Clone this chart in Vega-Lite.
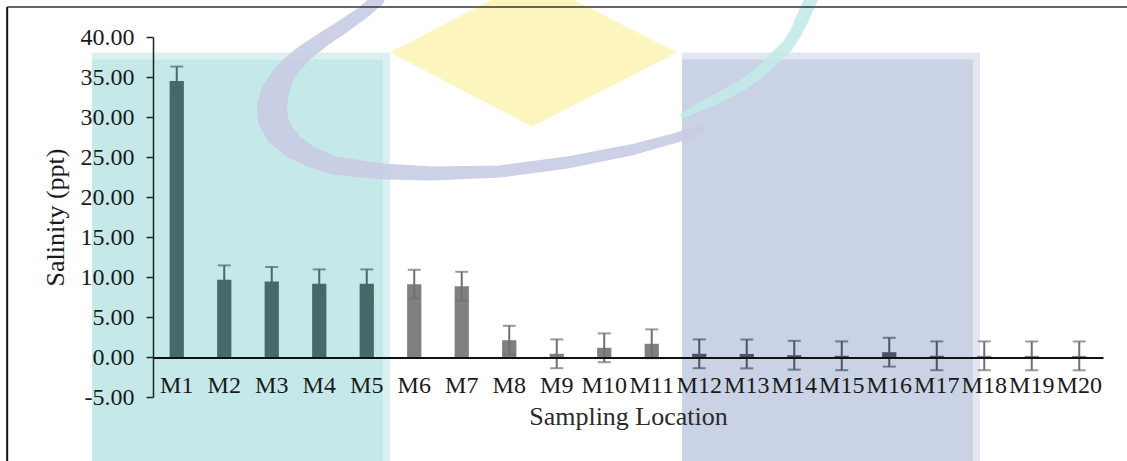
{
  "$schema": "https://vega.github.io/schema/vega-lite/v6.json",
  "width": 950,
  "height": 360,
  "autosize": "none",
  "padding": {"left": 153, "top": 37, "right": 24, "bottom": 64},
  "background": "white",
  "config": {"view": {"stroke": null}, "font": "Liberation Serif"},
  "datasets": {
    "salinity": [
      {"site": "M1", "mean": 34.5, "err": 1.8},
      {"site": "M2", "mean": 9.65, "err": 1.8},
      {"site": "M3", "mean": 9.45, "err": 1.8},
      {"site": "M4", "mean": 9.15, "err": 1.8},
      {"site": "M5", "mean": 9.15, "err": 1.8},
      {"site": "M6", "mean": 9.1, "err": 1.8},
      {"site": "M7", "mean": 8.85, "err": 1.8},
      {"site": "M8", "mean": 2.1, "err": 1.8},
      {"site": "M9", "mean": 0.4, "err": 1.8},
      {"site": "M10", "mean": 1.15, "err": 1.8},
      {"site": "M11", "mean": 1.65, "err": 1.8},
      {"site": "M12", "mean": 0.4, "err": 1.8},
      {"site": "M13", "mean": 0.38, "err": 1.8},
      {"site": "M14", "mean": 0.22, "err": 1.8},
      {"site": "M15", "mean": 0.15, "err": 1.8},
      {"site": "M16", "mean": 0.6, "err": 1.8},
      {"site": "M17", "mean": 0.15, "err": 1.8},
      {"site": "M18", "mean": 0.15, "err": 1.8},
      {"site": "M19", "mean": 0.14, "err": 1.8},
      {"site": "M20", "mean": 0.14, "err": 1.8}
    ],
    "panels": [
      {"panel": "teal rim", "x0": -0.78, "x1": 5.49, "top": 38.06, "bottom": -13},
      {"panel": "teal", "x0": -0.78, "x1": 5.34, "top": 37.19, "bottom": -13},
      {"panel": "blue rim", "x0": 11.64, "x1": 17.91, "top": 38.06, "bottom": -13},
      {"panel": "blue", "x0": 11.64, "x1": 17.76, "top": 37.19, "bottom": -13}
    ],
    "diamond": [
      {"u": 5.49, "top": 38.06, "bottom": 38.06},
      {"u": 8.48, "top": 47.3, "bottom": 28.8},
      {"u": 11.53, "top": 38.06, "bottom": 38.06}
    ],
    "ring": [
      {"arc": "lavender", "i": 0, "u": 5.279, "s": 45.44, "w": 13},
      {"arc": "lavender", "i": 1, "u": 5.237, "s": 44.69, "w": 13},
      {"arc": "lavender", "i": 2, "u": 4.921, "s": 43.06, "w": 13},
      {"arc": "lavender", "i": 3, "u": 4.5, "s": 41.31, "w": 14},
      {"arc": "lavender", "i": 4, "u": 4.079, "s": 39.69, "w": 15},
      {"arc": "lavender", "i": 5, "u": 3.7, "s": 38.06, "w": 17},
      {"arc": "lavender", "i": 6, "u": 3.384, "s": 36.31, "w": 20},
      {"arc": "lavender", "i": 7, "u": 3.195, "s": 34.69, "w": 24},
      {"arc": "lavender", "i": 8, "u": 3.068, "s": 33.06, "w": 28},
      {"arc": "lavender", "i": 9, "u": 3.005, "s": 31.31, "w": 30},
      {"arc": "lavender", "i": 10, "u": 3.026, "s": 29.69, "w": 30},
      {"arc": "lavender", "i": 11, "u": 3.153, "s": 28.06, "w": 28},
      {"arc": "lavender", "i": 12, "u": 3.447, "s": 26.31, "w": 24},
      {"arc": "lavender", "i": 13, "u": 3.805, "s": 25.06, "w": 21},
      {"arc": "lavender", "i": 14, "u": 4.289, "s": 23.94, "w": 18},
      {"arc": "lavender", "i": 15, "u": 5.342, "s": 23.19, "w": 16},
      {"arc": "lavender", "i": 16, "u": 6.395, "s": 22.94, "w": 14},
      {"arc": "lavender", "i": 17, "u": 7.805, "s": 23.19, "w": 12},
      {"arc": "lavender", "i": 18, "u": 9.216, "s": 24.31, "w": 12},
      {"arc": "lavender", "i": 19, "u": 10.605, "s": 25.94, "w": 11},
      {"arc": "lavender", "i": 20, "u": 11.532, "s": 27.44, "w": 10},
      {"arc": "lavender", "i": 21, "u": 12.016, "s": 28.44, "w": 9},
      {"arc": "aqua", "i": 0, "u": 14.458, "s": 45.69, "w": 13},
      {"arc": "aqua", "i": 1, "u": 14.353, "s": 44.69, "w": 13},
      {"arc": "aqua", "i": 2, "u": 14.163, "s": 42.19, "w": 13},
      {"arc": "aqua", "i": 3, "u": 14.037, "s": 40.56, "w": 12},
      {"arc": "aqua", "i": 4, "u": 13.847, "s": 38.81, "w": 12},
      {"arc": "aqua", "i": 5, "u": 13.553, "s": 37.19, "w": 12},
      {"arc": "aqua", "i": 6, "u": 13.279, "s": 35.56, "w": 11},
      {"arc": "aqua", "i": 7, "u": 12.858, "s": 33.81, "w": 11},
      {"arc": "aqua", "i": 8, "u": 12.332, "s": 32.19, "w": 10},
      {"arc": "aqua", "i": 9, "u": 11.911, "s": 30.94, "w": 8},
      {"arc": "aqua", "i": 10, "u": 11.658, "s": 30.19, "w": 5}
    ]
  },
  "layer": [
    {
      "layer": [
        {
          "data": {"name": "panels"},
          "mark": {"type": "rect"},
          "encoding": {
            "x": {"field": "x0", "type": "quantitative", "scale": {"domain": [0.5, 20.5], "nice": false, "zero": false}, "axis": null},
            "x2": {"field": "x1"},
            "y": {"field": "top", "type": "quantitative", "scale": {"domain": [-5, 40], "nice": false, "zero": false}, "axis": null},
            "y2": {"field": "bottom"},
            "color": {
              "field": "panel", "type": "nominal", "legend": null,
              "scale": {"domain": ["teal rim", "teal", "blue rim", "blue"], "range": ["#dbf1f0", "#c5e9e8", "#e3e6f1", "#cad2e5"]}
            }
          }
        },
        {
          "data": {"name": "diamond"},
          "mark": {"type": "area", "color": "#fdf5be"},
          "encoding": {
            "x": {"field": "u", "type": "quantitative", "scale": {"domain": [0.5, 20.5], "nice": false, "zero": false}, "axis": null},
            "y": {"field": "top", "type": "quantitative", "scale": {"domain": [-5, 40], "nice": false, "zero": false}, "axis": null},
            "y2": {"field": "bottom"}
          }
        },
        {
          "data": {"name": "ring"},
          "mark": {"type": "trail", "opacity": 0.9},
          "encoding": {
            "x": {"field": "u", "type": "quantitative", "scale": {"domain": [0.5, 20.5], "nice": false, "zero": false}, "axis": null},
            "y": {"field": "s", "type": "quantitative", "scale": {"domain": [-5, 40], "nice": false, "zero": false}, "axis": null},
            "order": {"field": "i", "type": "quantitative"},
            "detail": {"field": "arc", "type": "nominal"},
            "size": {"field": "w", "type": "quantitative", "legend": null, "scale": {"domain": [0, 40], "range": [0, 40]}},
            "color": {
              "field": "arc", "type": "nominal", "legend": null,
              "scale": {"domain": ["lavender", "aqua"], "range": ["#c8cce4", "#c3e9e8"]}
            }
          }
        },
        {
          "data": {"values": [{}]},
          "mark": {"type": "rule", "color": "#111111", "strokeWidth": 2},
          "encoding": {
            "x": {"datum": -2.57, "type": "quantitative", "scale": {"domain": [0.5, 20.5], "nice": false, "zero": false}, "axis": null},
            "y": {"datum": 43.75, "type": "quantitative", "scale": {"domain": [-5, 40], "nice": false, "zero": false}, "axis": null},
            "y2": {"datum": -13}
          }
        },
        {
          "data": {"values": [{}]},
          "mark": {"type": "rule", "color": "#333333", "strokeWidth": 1.5},
          "encoding": {
            "x": {"datum": -2.57, "type": "quantitative", "scale": {"domain": [0.5, 20.5], "nice": false, "zero": false}, "axis": null},
            "x2": {"datum": 21.2},
            "y": {"datum": 43.75, "type": "quantitative", "scale": {"domain": [-5, 40], "nice": false, "zero": false}, "axis": null}
          }
        }
      ],
      "resolve": {"scale": {"color": "independent", "size": "independent"}}
    },
    {
      "data": {"name": "salinity"},
      "encoding": {
        "x": {
          "field": "site", "type": "nominal", "sort": null,
          "scale": {"paddingInner": 0.7, "paddingOuter": 0.35},
          "axis": {
            "title": "Sampling Location", "orient": "bottom", "offset": -39.5, "zindex": 1,
            "ticks": false, "domainColor": "#111111", "domainWidth": 2,
            "labelAngle": 0, "labelFontSize": 24, "labelColor": "#1a1a1a", "labelPadding": 16,
            "labelFont": "Liberation Serif", "labelOverlap": false,
            "titleFont": "Liberation Serif", "titleFontSize": 26, "titleFontWeight": "normal",
            "titleColor": "#2a2a2a", "titlePadding": 6
          }
        },
        "y": {
          "field": "mean", "type": "quantitative", "title": "Salinity (ppt)",
          "scale": {"domain": [-5, 40], "nice": false, "zero": false},
          "axis": {
            "title": "Salinity (ppt)", "values": [-5, 0, 5, 10, 15, 20, 25, 30, 35, 40],
            "labelExpr": "replace(format(datum.value, '.2f'), '\u2212', '-')",
            "labelOverlap": false, "labelBound": false,
            "grid": false, "zindex": 1, "tickSize": 7, "tickWidth": 1.5, "tickColor": "#222222",
            "domainColor": "#222222", "domainWidth": 1.5,
            "labelFont": "Liberation Serif", "labelFontSize": 24, "labelColor": "#1a1a1a", "labelPadding": 12,
            "titleFont": "Liberation Serif", "titleFontSize": 26, "titleFontWeight": "normal",
            "titleColor": "#1a1a1a", "titlePadding": 12
          }
        }
      },
      "layer": [
        {
          "mark": {"type": "bar"},
          "encoding": {
            "color": {
              "condition": [
                {"test": "indexof(['M1','M2','M3','M4','M5'], datum.site) >= 0", "value": "#466a69"},
                {"test": "indexof(['M12','M13','M14','M15','M16','M17'], datum.site) >= 0", "value": "#4b5365"}
              ],
              "value": "#808080"
            }
          }
        },
        {
          "mark": {"type": "errorbar", "ticks": {"size": 13, "thickness": 2}, "rule": {"strokeWidth": 2}},
          "encoding": {
            "yError": {"field": "err"},
            "color": {
              "condition": [
                {"test": "indexof(['M1','M2','M3','M4','M5'], datum.site) >= 0", "value": "#466a69"},
                {"test": "indexof(['M12','M13','M14','M15','M16','M17'], datum.site) >= 0", "value": "#4b5365"}
              ],
              "value": "#707070"
            }
          }
        }
      ]
    }
  ],
  "resolve": {"scale": {"x": "independent", "y": "independent"}}
}
